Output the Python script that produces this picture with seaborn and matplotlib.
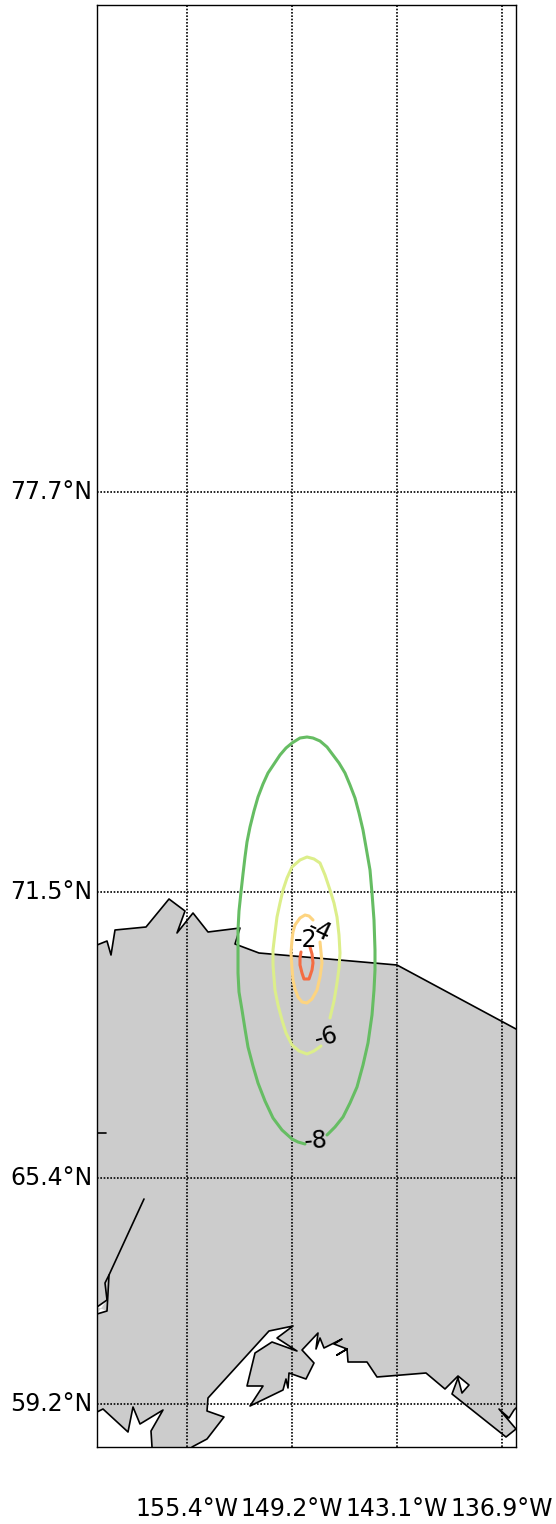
import matplotlib
matplotlib.use('Agg')
import matplotlib.pyplot as plt
import seaborn as sns

# map coordinates, y grows southwards like the image
north_coast_x = [97, 107, 111, 115, 146, 169, 185, 177, 193, 208, 240, 235, 259, 397, 516]
north_coast_y = [945, 941, 955, 930, 927, 899, 911, 933, 913, 932, 928, 944, 953, 965, 1029]
south_east_x = [516, 514, 509, 499, 516, 506, 452, 458, 462, 469, 458, 445, 426, 377, 367, 348, 347, 337, 347, 334,
                342, 324, 320, 316, 318, 302, 314, 306, 289, 288, 286, 283, 250, 263, 247, 255, 272, 297, 277, 293,
                269, 208, 207, 224, 207, 192]
south_east_y = [1408, 1410, 1418, 1409, 1429, 1437, 1394, 1378, 1393, 1385, 1376, 1389, 1373, 1377, 1362, 1362, 1349,
                1355, 1349, 1344, 1339, 1348, 1338, 1349, 1333, 1350, 1363, 1379, 1373, 1388, 1379, 1390, 1406, 1386,
                1386, 1353, 1342, 1351, 1338, 1326, 1331, 1398, 1411, 1417, 1439, 1447]
south_west_x = [152, 151, 163, 140, 133, 128, 103, 97]
south_west_y = [1447, 1431, 1410, 1424, 1407, 1432, 1409, 1412]
inlet_x = [144, 109, 105, 107, 97]
inlet_y = [1199, 1275, 1283, 1300, 1307]
inlet_lower_x = [109, 107, 97]
inlet_lower_y = [1275, 1311, 1314]
stub_x = [97, 106]
stub_y = [1133, 1133]

# contour levels, broken where the labels sit
level_minus8_x = [327, 335, 343, 350, 357, 363, 368, 372, 374, 375, 375, 374, 372, 370, 366, 363, 359, 355, 350, 345,
                  339, 333, 327, 320, 313, 307, 300, 292, 286, 280, 274, 268, 263, 258, 254, 250, 247, 245, 243, 241,
                  239, 238, 238, 238, 239, 242, 245, 248, 253, 258, 265, 273, 282, 292, 298, 305]
level_minus8_y = [1135, 1127, 1117, 1103, 1087, 1065, 1043, 1015, 990, 970, 950, 920, 893, 870, 847, 830, 813, 798,
                  785, 773, 763, 755, 747, 741, 738, 737, 738, 743, 748, 755, 764, 773, 784, 797, 811, 827, 842, 857,
                  874, 892, 911, 930, 950, 973, 992, 1010, 1029, 1047, 1066, 1083, 1101, 1118, 1130, 1139, 1142, 1144]
level_minus6_x = [330, 334, 337, 339, 340, 339, 337, 334, 330, 325, 320, 314, 307, 300, 292, 287, 283, 280, 277, 275,
                  273, 273, 275, 278, 282, 286, 292, 299, 307, 314, 321]
level_minus6_y = [1018, 1001, 983, 968, 953, 935, 917, 903, 890, 875, 863, 859, 857, 860, 867, 878, 890, 903, 917,
                  933, 950, 965, 990, 1005, 1020, 1033, 1045, 1051, 1054, 1051, 1046]
level_minus4_x = [313, 309, 305, 300, 295, 293, 292, 291, 292, 293, 295, 298, 302, 307, 312, 317, 320, 322, 321, 320]
level_minus4_y = [920, 916, 915, 918, 925, 932, 940, 953, 968, 980, 989, 997, 1002, 1003, 999, 990, 977, 963, 952, 942]
level_minus2_x = [310, 312, 313, 312, 309, 304, 302, 300, 300, 301]
level_minus2_y = [947, 954, 963, 970, 979, 979, 973, 965, 958, 952]
level_labels = ['-2', '-4', '-6', '-8']
label_x = [306, 319, 326, 316]
label_y = [940, 931, 1037, 1141]
label_rotation = [0, -25, 15, 5]

lon_ticks = [187, 292, 397, 502]
lon_labels = ['155.4°W', '149.2°W', '143.1°W', '136.9°W']
lat_ticks = [492, 892, 1178, 1404]
lat_labels = ['77.7°N', '71.5°N', '65.4°N', '59.2°N']

sns.set_theme(style='white')
plt.rcParams['font.family'] = 'DejaVu Sans'

fig = plt.figure(figsize=(5.56, 15.24), dpi=100)
ax = fig.add_axes([97 / 556, 1 - 1447 / 1524, 419 / 556, 1442 / 1524])

# land first, the white wedges get cut out of it
land_x = north_coast_x + south_east_x + south_west_x + [97]
land_y = north_coast_y + south_east_y + south_west_y + [945]
ax.fill(land_x, land_y, color='#cccccc', lw=0, zorder=1)
ax.fill(inlet_x[-2:] + inlet_lower_x[1:], inlet_y[-2:] + inlet_lower_y[1:], color='white', lw=0, zorder=1)

# coastline
coast = [(north_coast_x, north_coast_y), (south_east_x, south_east_y), (south_west_x, south_west_y),
         (inlet_x, inlet_y), (inlet_lower_x, inlet_lower_y), (stub_x, stub_y)]
for xs, ys in coast:
    sns.lineplot(x=xs, y=ys, sort=False, estimator=None, color='black', lw=1.2, zorder=3, ax=ax)

levels = [(level_minus8_x, level_minus8_y, '#66bd63'), (level_minus6_x, level_minus6_y, '#dcee8a'),
          (level_minus4_x, level_minus4_y, '#fdd480'), (level_minus2_x, level_minus2_y, '#f46d43')]
for xs, ys, col in levels:
    sns.lineplot(x=xs, y=ys, sort=False, estimator=None, color=col, lw=2.2, zorder=4, ax=ax)

for txt, x, y, rot in zip(level_labels, label_x, label_y, label_rotation):
    ax.text(x, y, txt, fontsize=17, color='black', rotation=rot, ha='center', va='center', zorder=5)

ax.set_xlim(97, 516)
ax.set_ylim(1447, 5)
ax.set_xticks(lon_ticks)
ax.set_xticklabels(lon_labels)
ax.set_yticks(lat_ticks)
ax.set_yticklabels(lat_labels, va='center')
ax.tick_params(axis='x', length=0, pad=36, labelsize=17, colors='black')
ax.tick_params(axis='y', length=0, pad=3.5, labelsize=17, colors='black')
ax.set_axisbelow(False)
ax.grid(True, color='black', lw=1.2, linestyle=(0, (1, 1)), zorder=2)
for spine in ax.spines.values():
    spine.set_color('black')
    spine.set_linewidth(1)
    spine.set_visible(True)

fig.savefig('out.png', dpi=100)
